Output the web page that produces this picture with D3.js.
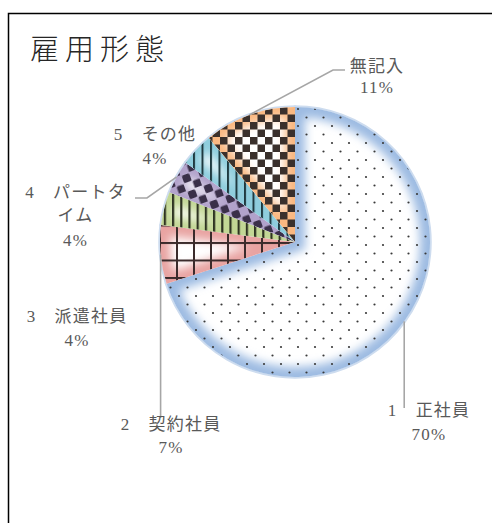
<!DOCTYPE html>
<html><head><meta charset="utf-8">
<script src="https://cdn.jsdelivr.net/npm/d3@7"></script>
<style>body{margin:0;background:#fff}svg{display:block}</style>
</head><body>
<script>
// ---- data ----
const categories = ["1　正社員","2　契約社員","3　派遣社員","4　パートタイム","5　その他","無記入"];
const values = [70, 7, 4, 4, 4, 11];
const percentLabels = ["70%","7%","4%","4%","4%","11%"];
const title = "雇用形態";

// ---- layout / style ----
const W = 492, H = 523;
const cx = 295, cy = 242, R = 135;
const glowColors = ["#9dbbe2","#e8a3a1","#c2d795","#b1a2cb","#8ecddd","#f9b780"];
// wrapped label lines, centers and baselines
const labelLayout = [
  {lines:["1　正社員","70%"], x:429, y:[416,440], leader:{elbow:[[null,408]]}},
  {lines:["2　契約社員","7%"], x:171, y:[430,453], leader:{elbow:[[null,418]]}},
  {lines:["3　派遣社員","4%"], x:77, y:[322,346]},
  {lines:["4　パートタ","イム","4%"], x:75.5, y:[198,221,246], leader:{elbow:[[147,198],[135,198]]}},
  {lines:["5　その他","4%"], x:155, y:[140,164]},
  {lines:["無記入","11%"], x:377, y:[72,93], leader:{elbow:[[333,70],[345,70]]}}
];

const svg = d3.select("body").append("svg").attr("width",W).attr("height",H);
const defs = svg.append("defs");

defs.append("filter").attr("id","blur").attr("x","-50%").attr("y","-50%").attr("width","200%").attr("height","200%")
  .append("feGaussianBlur").attr("stdDeviation",5);

function pat(id, w, h, draw, transform){
  const p = defs.append("pattern").attr("id",id).attr("patternUnits","userSpaceOnUse")
    .attr("width",w).attr("height",h);
  if(transform) p.attr("patternTransform",transform);
  draw(p);
}
pat("p0",17,17,p=>{
  p.append("circle").attr("cx",3).attr("cy",3).attr("r",1.1).attr("fill","#3a3a3a");
  p.append("circle").attr("cx",11.5).attr("cy",11.5).attr("r",1.1).attr("fill","#3a3a3a");
});
pat("p1",17,17.5,p=>{
  p.append("rect").attr("x",0).attr("y",0).attr("width",2).attr("height",17.5).attr("fill","#3b2b2b");
  p.append("rect").attr("x",0).attr("y",0).attr("width",17).attr("height",2).attr("fill","#3b2b2b");
});
pat("p2",8.2,8,p=>{
  p.append("rect").attr("x",0).attr("y",0).attr("width",2.2).attr("height",8).attr("fill","#2e3322");
});
pat("p3",17,17,p=>{
  [[1,1],[9.5,9.5]].forEach(([x,y])=>{
    p.append("rect").attr("x",x).attr("y",y).attr("width",8).attr("height",8).attr("rx",1.5).attr("fill","#3a3049");
  });
},"rotate(-20)");
pat("p4",8.5,8,p=>{
  p.append("rect").attr("x",0).attr("y",0).attr("width",2).attr("height",8).attr("fill","#1f3a40");
});
pat("p5",15,15,p=>{
  p.append("rect").attr("x",0).attr("y",0).attr("width",7.5).attr("height",7.5).attr("fill","#3a302c");
  p.append("rect").attr("x",7.5).attr("y",7.5).attr("width",7.5).attr("height",7.5).attr("fill","#3a302c");
});

// frame
svg.append("rect").attr("x",8.5).attr("y",13.5).attr("width",520).attr("height",540)
  .attr("fill","none").attr("stroke","#000").attr("stroke-width",1.5);

// title
svg.append("text").attr("x",30).attr("y",60).text(title)
  .attr("font-family","'Noto Sans CJK JP'").attr("font-size",29).attr("font-weight",300).attr("letter-spacing",6)
  .attr("fill","#262626");

// pie
const pie = d3.pie().sort(null).value(d=>d).startAngle(0).endAngle(2*Math.PI);
const arcs = pie(values);
const arc = d3.arc().innerRadius(0).outerRadius(R);
const g = svg.append("g").attr("transform",`translate(${cx},${cy})`);

arcs.forEach((a,i)=>{
  defs.append("clipPath").attr("id","clip"+i).append("path").attr("d",arc(a)).attr("transform",`translate(${cx},${cy})`);
});
arcs.forEach((a,i)=>{
  const d = arc(a);
  const sg = svg.append("g").attr("clip-path",`url(#clip${i})`);
  sg.append("path").attr("d",d).attr("transform",`translate(${cx},${cy})`).attr("fill","#fff");
  sg.append("path").attr("d",d).attr("transform",`translate(${cx},${cy})`).attr("fill","none")
    .attr("stroke",glowColors[i]).attr("stroke-width",20).attr("filter","url(#blur)");
  sg.append("path").attr("d",d).attr("fill",`url(#p${i})`).attr("transform",`translate(${cx},${cy})`);
});
g.selectAll("path.edge").data(arcs).join("path").attr("class","edge")
  .attr("d",arc).attr("fill","none").attr("stroke","#cddcef").attr("stroke-width",3.5)
  .attr("stroke-linejoin","round");

// leaders
const leaderG = svg.append("g").attr("fill","none").attr("stroke","#a6a6a6").attr("stroke-width",1.6);
labelLayout.forEach((L,i)=>{
  if(!L.leader) return;
  const a = arcs[i], m = (a.startAngle+a.endAngle)/2;
  const p0 = [cx + R*Math.sin(m), cy - R*Math.cos(m)];
  const pts = [p0];
  L.leader.elbow.forEach(e=>pts.push([e[0]===null?p0[0]:e[0], e[1]]));
  leaderG.append("path").attr("d",d3.line()(pts));
});

// labels
const lab = svg.append("g").attr("font-family","'Liberation Serif','Noto Sans CJK JP'")
  .attr("font-size",17).attr("fill","#595959").attr("text-anchor","middle");
labelLayout.forEach((L)=>{
  L.lines.forEach((t,k)=>{
    lab.append("text").attr("x",L.x).attr("y",L.y[k]).attr("letter-spacing",1.2).text(t);
  });
});
</script>
</body></html>
